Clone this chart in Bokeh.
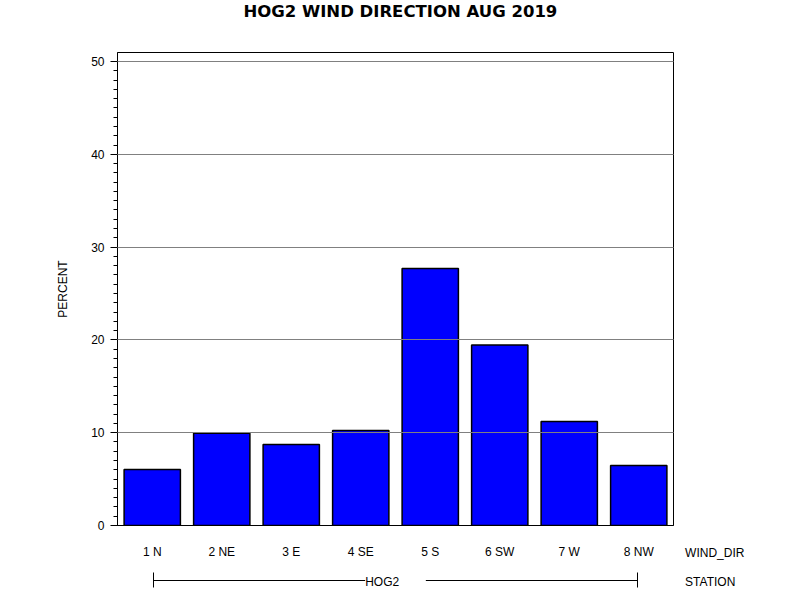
from bokeh.plotting import figure
from bokeh.models import (FactorRange, Range1d, SingleIntervalTicker, Label,
                          LinearAxis, FixedTicker, ColumnDataSource)
from bokeh.embed import file_html
from bokeh.resources import INLINE

# ---- data ----
wind_dir = ["1 N", "2 NE", "3 E", "4 SE", "5 S", "6 SW", "7 W", "8 NW"]
percent = [6.03, 9.95, 8.73, 10.24, 27.69, 19.46, 11.20, 6.47]
station = "HOG2"
title_text = "HOG2 WIND DIRECTION AUG 2019"
y_label = "PERCENT"
x_label = "WIND_DIR"
group_label = "STATION"

FONT = "Liberation Sans"

src = ColumnDataSource(data=dict(wind_dir=wind_dir, percent=percent))

p = figure(width=800, height=600,
           x_range=FactorRange(*wind_dir, range_padding=0),
           y_range=Range1d(0, 50.97),
           output_backend="svg", toolbar_location=None, title=None,
           min_border_left=117, min_border_right=127,
           min_border_top=52, min_border_bottom=75)

p.vbar(x="wind_dir", top="percent", width=0.81, source=src,
       fill_color="#0000FF", line_color="black", line_width=1.5)

# x axis (its blank axis label only pushes the station bracket down)
xa = p.xaxis[0]
xa.major_tick_line_color = None
xa.minor_tick_line_color = None
xa.major_label_standoff = 13
xa.axis_line_color = "black"
xa.major_label_text_font = FONT
xa.major_label_text_font_size = "12px"
xa.major_label_text_color = "black"
xa.axis_label = " "
xa.axis_label_standoff = 2
xa.axis_label_text_font = FONT
xa.axis_label_text_font_size = "12px"

# y axis
ya = p.yaxis[0]
ya.ticker = SingleIntervalTicker(interval=10, num_minor_ticks=10)
ya.major_tick_out = 7
ya.major_tick_in = 0
ya.minor_tick_out = 4
ya.minor_tick_in = 0
ya.major_tick_line_color = "black"
ya.minor_tick_line_color = "black"
ya.axis_line_color = "black"
ya.major_label_standoff = 6
ya.major_label_text_font = FONT
ya.major_label_text_font_size = "12px"
ya.major_label_text_color = "black"
ya.axis_label = y_label
ya.axis_label_standoff = 18
ya.axis_label_text_font = FONT
ya.axis_label_text_font_size = "12px"
ya.axis_label_text_font_style = "normal"
ya.axis_label_text_color = "black"

p.xgrid.visible = False
p.ygrid.grid_line_color = "#808080"
p.ygrid.grid_line_width = 1
p.ygrid.level = "overlay"

p.outline_line_color = "black"
p.outline_line_width = 1
p.outline_line_alpha = 1.0
p.background_fill_color = "white"
p.border_fill_color = "white"

# station group bracket: a bounded axis stacked below the category axis
br = LinearAxis(bounds=(0.519, 7.481), ticker=FixedTicker(ticks=[0.52, 7.48]))
br.axis_line_color = "black"
br.axis_line_width = 1
br.major_tick_line_color = "black"
br.major_tick_line_width = 1
br.major_tick_in = 8
br.major_tick_out = 7
br.minor_tick_line_color = None
br.major_label_text_alpha = 0
br.major_label_text_font_size = "1px"
br.major_label_standoff = 0
p.add_layout(br, "below")

# texts outside the frame live in side panels (not clipped there)
p.add_layout(Label(x=4.07, y=55.37, text=title_text, text_align="center",
                   text_baseline="middle", text_font="DejaVu Sans",
                   text_font_style="bold", text_font_size="16.5px",
                   text_color="black"), "above")

p.add_layout(Label(x=8.167, y=-2.95, text=x_label, text_align="left",
                   text_baseline="middle", text_font=FONT,
                   text_font_size="12px", text_color="black"), "right")
p.add_layout(Label(x=8.167, y=-6.1, text=group_label, text_align="left",
                   text_baseline="middle", text_font=FONT,
                   text_font_size="12px", text_color="black"), "right")
p.add_layout(Label(x=4.0, y=-6.12, text="    " + station + "    ",
                   text_align="center", text_baseline="middle",
                   text_font=FONT, text_font_size="12px", text_color="black",
                   background_fill_color="white", background_fill_alpha=1.0),
             "above")

open("out.html", "w").write(file_html(p, INLINE))
